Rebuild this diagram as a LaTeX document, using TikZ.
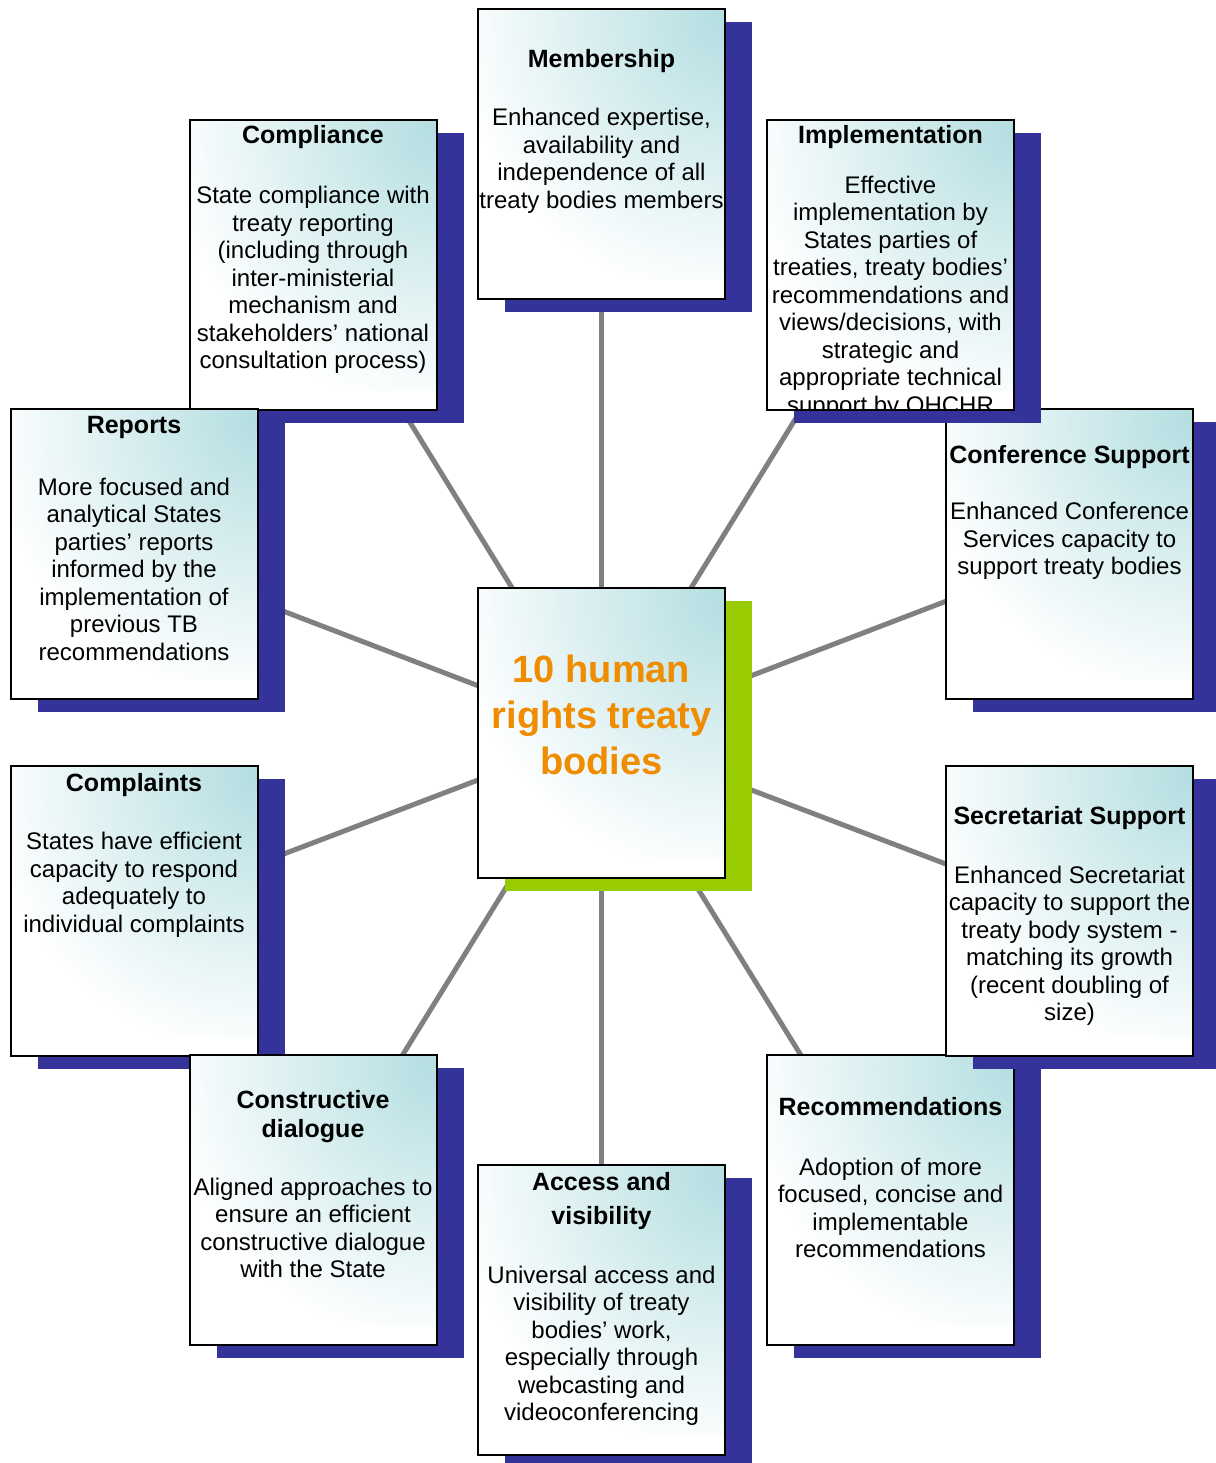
\documentclass[tikz,border=0pt]{standalone}
\usepackage{fontspec}
\setmainfont{Liberation Sans}
\usetikzlibrary{shadows}
\definecolor{navy}{RGB}{51,51,153}
\definecolor{lime}{RGB}{153,204,0}
\definecolor{tb}{RGB}{180,222,225}
\definecolor{orng}{RGB}{240,140,0}
\definecolor{conn}{RGB}{128,128,128}
\pgfdeclarelayer{bg}
\pgfsetlayers{bg,main}
\tikzset{
 face/.style={draw=black, fill=white, line width=2pt, minimum width=247pt, minimum height=290pt,
   inner sep=0pt, outer sep=0pt,
   path picture={\shade[inner color=tb, outer color=white]
     ([shift={(-270pt,-270pt)}]path picture bounding box.north east) rectangle
     ([shift={(270pt,270pt)}]path picture bounding box.north east);}},
 navyshadow/.style={general shadow={fill=navy, draw=none, shadow xshift=27pt, shadow yshift=-13pt}},
 greenshadow/.style={general shadow={fill=lime, draw=none, shadow xshift=27pt, shadow yshift=-13pt}},
 ttl/.style={font=\fontsize{25}{34}\selectfont\bfseries, align=center, inner sep=0pt},
 bodytext/.style={font=\fontsize{24}{27.5}\selectfont, align=center, inner sep=0pt},
 link/.style={draw=conn, line width=5pt},
}
\begin{document}
\begin{tikzpicture}[x=1pt,y=-1pt]
\useasboundingbox (0,0) rectangle (1215,1463);

% Membership
\node[face,navyshadow] (memb) at (601.5,154) {};
\node[ttl] (membT) at (601.5,61) {Membership};
\node[bodytext] (membB) at (601.5,161) {Enhanced expertise,\\availability and\\independence of all\\treaty bodies members};

% Conference Support
\node[face,navyshadow] (conf) at (1069.5,554) {};
\node[ttl] (confT) at (1069.5,457) {Conference Support};
\node[bodytext] (confB) at (1069.5,541) {Enhanced Conference\\Services capacity to\\support treaty bodies};

% Implementation
\node[face,navyshadow] (impl) at (890.5,265) {};
\node[ttl] (implT) at (890.5,137) {Implementation};
\begin{scope}
\clip (767,120) rectangle (1014,409);
\node[bodytext] (implB) at (890.5,297) {Effective\\implementation by\\States parties of\\treaties, treaty bodies’\\recommendations and\\views/decisions, with\\strategic and\\appropriate technical\\support by OHCHR};
\end{scope}

% Compliance
\node[face,navyshadow] (comp) at (313,265) {};
\node[ttl] (compT) at (313,137) {Compliance};
\node[bodytext] (compB) at (313,280) {State compliance with\\treaty reporting\\(including through\\inter-ministerial\\mechanism and\\stakeholders’ national\\consultation process)};

% Reports
\node[face,navyshadow] (rep) at (134,554) {};
\node[ttl] (repT) at (134,427) {Reports};
\node[bodytext] (repB) at (134,569) {More focused and\\analytical States\\parties’ reports\\informed by the\\implementation of\\previous TB\\recommendations};

% Centre
\node[face,greenshadow] (ctr) at (601.5,733) {};
\node[font=\fontsize{38}{46}\selectfont\bfseries, text=orng, align=center, inner sep=0pt] (ctrT) at (601.5,715) {10 human\\rights treaty\\bodies};

% Complaints
\node[face,navyshadow] (cmpl) at (134,911) {};
\node[ttl] (cmplT) at (134,785) {Complaints};
\node[bodytext] (cmplB) at (134,885) {States have efficient\\capacity to respond\\adequately to\\individual complaints};

% Constructive dialogue
\node[face,navyshadow] (cons) at (313,1200) {};
\node[ttl,font=\fontsize{25}{29}\selectfont\bfseries] (consT) at (313,1117) {Constructive\\dialogue};
\node[bodytext] (consB) at (313,1228) {Aligned approaches to\\ensure an efficient\\constructive dialogue\\with the State};

% Recommendations
\node[face,navyshadow] (rec) at (890.5,1200) {};
\node[ttl] (recT) at (890.5,1107) {Recommendations};
\node[bodytext] (recB) at (890.5,1208) {Adoption of more\\focused, concise and\\implementable\\recommendations};

% Secretariat Support
\node[face,navyshadow] (sec) at (1069.5,911) {};
\node[ttl] (secT) at (1069.5,818) {Secretariat Support};
\node[bodytext] (secB) at (1069.5,946) {Enhanced Secretariat\\capacity to support the\\treaty body system -\\matching its growth\\(recent doubling of\\size)};

% Access and visibility
\node[face,navyshadow] (acc) at (601.5,1310) {};
\node[ttl] (accT) at (601.5,1201) {Access and\\visibility};
\node[bodytext] (accB) at (601.5,1346) {Universal access and\\visibility of treaty\\bodies’ work,\\especially through\\webcasting and\\videoconferencing};

% connectors
\begin{pgfonlayer}{bg}
\foreach \n in {memb,comp,impl,rep,conf,cmpl,sec,cons,rec,acc}
  \draw[link] (ctr.center) -- (\n.center);
\end{pgfonlayer}
\end{tikzpicture}
\end{document}
